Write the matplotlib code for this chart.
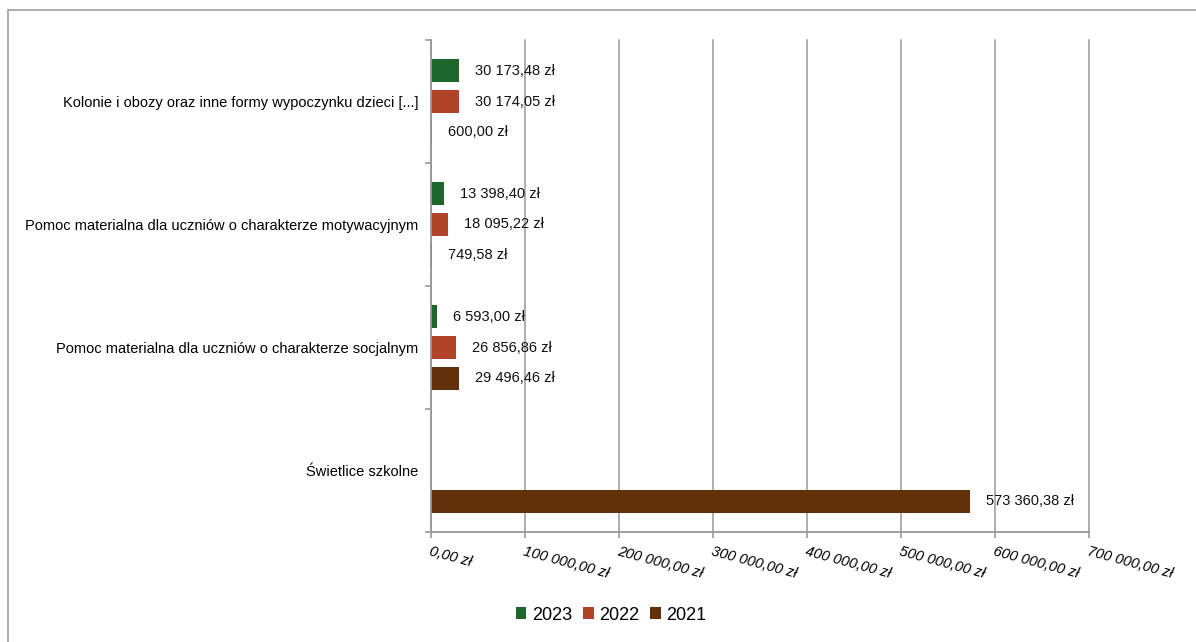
import numpy as np
import matplotlib.pyplot as plt
from matplotlib.patches import Rectangle

plt.rcParams['font.family'] = ['Liberation Sans', 'DejaVu Sans']

categories = ['Kolonie i obozy oraz inne formy wypoczynku dzieci [...]',
              'Pomoc materialna dla uczniów o charakterze motywacyjnym',
              'Pomoc materialna dla uczniów o charakterze socjalnym',
              'Świetlice szkolne']
years = ['2023', '2022', '2021']
values_2023 = [30173.48, 13398.40, 6593.00, None]
values_2022 = [30174.05, 18095.22, 26856.86, None]
values_2021 = [600.00, 749.58, 29496.46, 573360.38]
colors = ['#1f662d', '#b0432a', '#62300b']
xticks = np.arange(0, 700001, 100000)


def pl_money(v):
    s = f'{v:,.2f}'
    return s.replace(',', ' ').replace('.', ',') + ' zł'


fig = plt.figure(figsize=(11.96, 6.42), dpi=100)
ax = fig.add_axes([431 / 1196, 1 - 532 / 642, 658 / 1196, 492 / 642])

# outer chart border
fig.patches.append(Rectangle((8 / 1196, -0.1), 1.2, (642 - 10) / 642 + 0.1,
                             transform=fig.transFigure, fill=False,
                             edgecolor='#a0a0a0', linewidth=1.2))

n = len(categories)
centers = np.arange(n)[::-1] + 0.5
offsets = [-0.25, 0.0, 0.25]
bar_h = 0.19
series = [values_2023, values_2022, values_2021]

for vals, off, col, yr in zip(series, offsets, colors, years):
    for c, v in zip(centers, vals):
        if v is None:
            continue
        y = c - off
        # bars sit above the grid but under the axis line
        ax.barh(y, v, height=bar_h, color=col, linewidth=0, zorder=2)
        ax.annotate(pl_money(v), xy=(v, y), xytext=(11.5, 0), textcoords='offset points',
                    va='center', ha='left', fontsize=10.5, color='#111111', zorder=4)
    ax.bar(0, 0, color=col, label=yr)

ax.set_xlim(0, 700000)
ax.set_ylim(0, n)
ax.set_xticks(xticks)
ax.set_xticklabels([pl_money(t) for t in xticks], rotation=-15, ha='left',
                   va='top', fontsize=10.5, style='italic', rotation_mode='anchor')
ax.set_yticks(np.arange(n + 1))
ax.set_yticklabels([])
ax.set_yticks(centers, minor=True)
ax.set_yticklabels(categories, minor=True, fontsize=10.5)
ax.tick_params(axis='y', which='minor', length=0, pad=9)
ax.tick_params(axis='y', which='major', length=4, color='#999999', width=1.2)
ax.tick_params(axis='x', length=4, color='#999999', width=1.2, pad=5)

ax.grid(axis='x', color='#a0a0a0', linewidth=1.2, zorder=0)
ax.set_axisbelow(True)
for gl in ax.get_xgridlines():
    gl.set_clip_on(False)
for s in ['top', 'right']:
    ax.spines[s].set_visible(False)
for s in ['left', 'bottom']:
    ax.spines[s].set_color('#999999')
    ax.spines[s].set_linewidth(1.3)
    ax.spines[s].set_zorder(3)

fig.legend(loc='center', bbox_to_anchor=(611 / 1196, 1 - 615 / 642), ncol=3,
           frameon=False, fontsize=13, handlelength=0.6, handleheight=0.6,
           handletextpad=0.3, columnspacing=0.6)

fig.savefig('out.png', dpi=100)
